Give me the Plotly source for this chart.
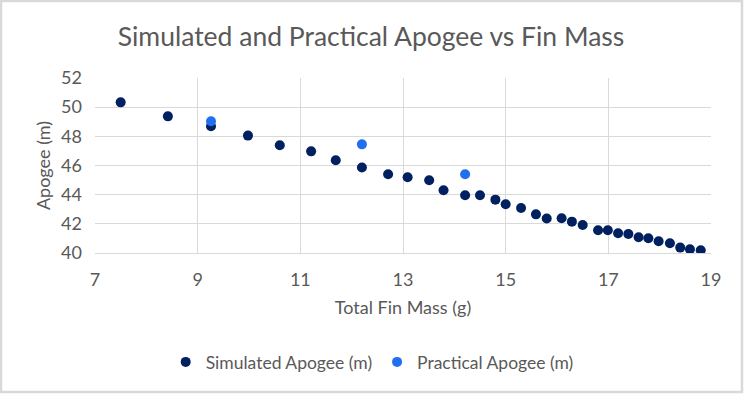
import plotly.graph_objects as go

sim_mass = [7.50, 8.42, 9.26, 9.98, 10.60, 11.21, 11.69, 12.20, 12.71, 13.09,
            13.51, 13.79, 14.21, 14.50, 14.80, 15.00, 15.30, 15.59, 15.80, 16.09,
            16.29, 16.50, 16.80, 16.99, 17.19, 17.39, 17.59, 17.78, 17.98, 18.20,
            18.40, 18.59, 18.80]
sim_apogee = [50.33, 49.37, 48.69, 48.05, 47.39, 46.97, 46.36, 45.86, 45.40, 45.19,
              44.99, 44.30, 43.96, 43.96, 43.66, 43.34, 43.09, 42.65, 42.36, 42.38,
              42.15, 41.92, 41.56, 41.56, 41.35, 41.30, 41.08, 41.01, 40.80, 40.67,
              40.37, 40.25, 40.19]
prac_mass = [9.26, 12.20, 14.21]
prac_apogee = [49.03, 47.45, 45.40]

x_ticks = [7, 9, 11, 13, 15, 17, 19]
y_ticks = [40, 42, 44, 46, 48, 50, 52]

FONT = "Lato"
GRID = "#d9d9d9"
TXT = "#595959"

fig = go.Figure()
fig.add_trace(go.Scatter(x=sim_mass, y=sim_apogee, mode="markers",
                         name="Simulated Apogee (m)",
                         marker=dict(color="#002060", size=10)))
fig.add_trace(go.Scatter(x=prac_mass, y=prac_apogee, mode="markers",
                         name="Practical Apogee (m)",
                         marker=dict(color="#1f6ff0", size=10)))

L, R, T, B = 95, 33, 78, 141
W, H = 744, 394
pw, ph = W - L - R, H - T - B

def px(x):
    return (x - L) / pw

def py(y):
    return (H - B - y) / ph

fig.add_shape(type="rect", xref="paper", yref="paper",
              x0=px(1), x1=px(742), y0=py(392), y1=py(1),
              line=dict(color=GRID, width=2.5), fillcolor="rgba(0,0,0,0)", layer="below")

fig.update_layout(
    width=W, height=H,
    margin=dict(l=L, r=R, t=T, b=B),
    paper_bgcolor="white", plot_bgcolor="white",
    font=dict(family=FONT, color=TXT, size=18),
    title=dict(text="Simulated and Practical Apogee vs Fin Mass",
               x=371 / W, xref="container", xanchor="center",
               y=1 - 37 / H, yref="container", yanchor="middle",
               font=dict(size=26.5, color=TXT, family=FONT)),
    xaxis=dict(range=[7, 19], tickvals=x_ticks, showgrid=True, gridcolor=GRID,
               gridwidth=1, zeroline=False, showline=True, linecolor=GRID,
               ticks="", ticklabelstandoff=10,
               title=dict(text="Total Fin Mass (g)", standoff=12,
                          font=dict(size=18, color=TXT))),
    yaxis=dict(range=[40, 52], tickvals=y_ticks, showgrid=True, gridcolor=GRID,
               gridwidth=1, zeroline=False, showline=False,
               ticks="", ticklabelstandoff=12,
               title=dict(text="Apogee (m)", standoff=5,
                          font=dict(size=18, color=TXT))),
    showlegend=True,
    legend=dict(orientation="h", x=0.45, xanchor="center",
                y=py(362), yanchor="middle", yref="paper",
                font=dict(size=17.5, color=TXT), itemwidth=30,
                bgcolor="rgba(0,0,0,0)"),
)

fig.write_html("out.html", post_script="document.body.style.margin='0';",
               config={"displayModeBar": False})
